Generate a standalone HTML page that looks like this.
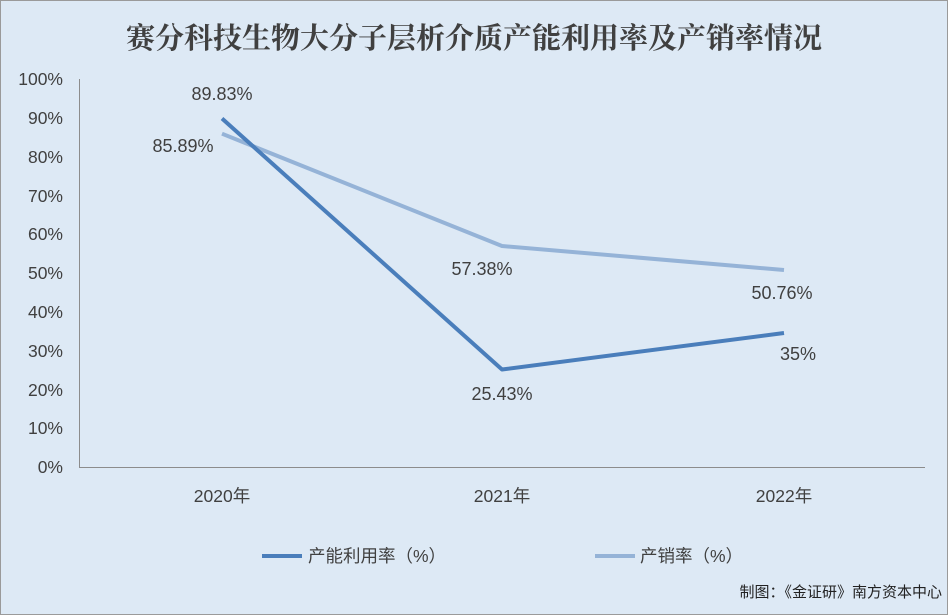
<!DOCTYPE html>
<html><head><meta charset="utf-8"><style>
html,body{margin:0;padding:0;background:#fff;}
svg{display:block;}
text{font-family:"Liberation Sans","Noto Sans CJK SC",sans-serif;}
</style></head><body>
<svg width="948" height="615" viewBox="0 0 948 615" xmlns="http://www.w3.org/2000/svg">
<rect x="0.5" y="0.5" width="947" height="614" fill="#dde9f5" stroke="#9a9a9a"/>
<text x="474" y="48" text-anchor="middle" font-size="29" font-weight="bold" fill="#404040" style="font-family:'Noto Serif CJK SC',serif">赛分科技生物大分子层析介质产能利用率及产销率情况</text>
<g font-size="17.5" fill="#404040" text-anchor="end">
<text x="63" y="85">100%</text><text x="63" y="124">90%</text><text x="63" y="163">80%</text><text x="63" y="202">70%</text><text x="63" y="240">60%</text><text x="63" y="279">50%</text><text x="63" y="318">40%</text><text x="63" y="357">30%</text><text x="63" y="396">20%</text><text x="63" y="434">10%</text><text x="63" y="473">0%</text>
</g>
<line x1="79.5" y1="79" x2="79.5" y2="467" stroke="#8c8c8c" stroke-width="1"/>
<line x1="79" y1="467.5" x2="925" y2="467.5" stroke="#8c8c8c" stroke-width="1"/>
<g font-size="17.5" fill="#404040" text-anchor="middle">
<text x="222" y="502">2020年</text><text x="502" y="502">2021年</text><text x="784" y="502">2022年</text>
</g>
<polyline points="222,133.7 502,246 784,270" fill="none" stroke="#95b3d7" stroke-width="4" stroke-linejoin="round"/>
<polyline points="222,118.5 502,369.5 784,333" fill="none" stroke="#4a7ebb" stroke-width="4" stroke-linejoin="round"/>
<g font-size="18" fill="#404040" text-anchor="middle">
<text x="222" y="100">89.83%</text>
<text x="183" y="152">85.89%</text>
<text x="482" y="275">57.38%</text>
<text x="502" y="400">25.43%</text>
<text x="782" y="299">50.76%</text>
<text x="798" y="360">35%</text>
</g>
<line x1="262" y1="556" x2="302" y2="556" stroke="#4a7ebb" stroke-width="4"/>
<text x="308" y="562" font-size="17.5" fill="#404040">产能利用率（%）</text>
<line x1="595" y1="556" x2="635" y2="556" stroke="#95b3d7" stroke-width="4"/>
<text x="640" y="562" font-size="17.5" fill="#404040">产销率（%）</text>
<text x="942" y="597" font-size="15" fill="#222" text-anchor="end">制图：《金证研》南方资本中心</text>
</svg>
</body></html>
